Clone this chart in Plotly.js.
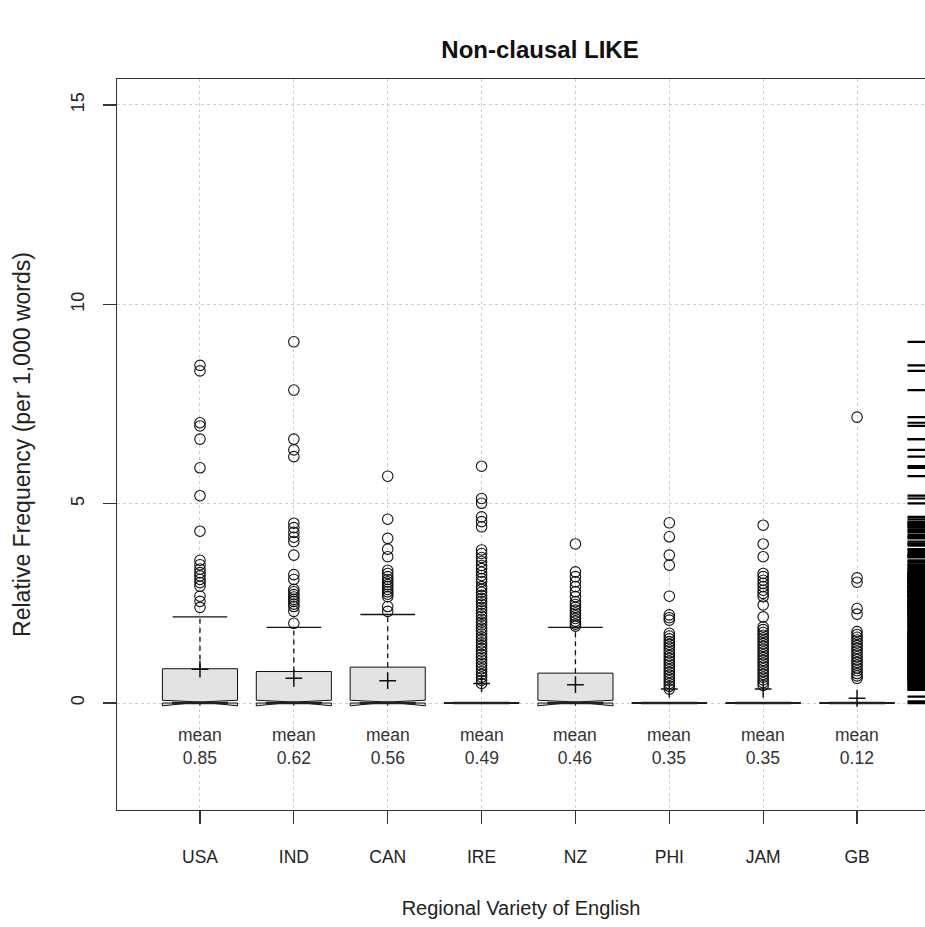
<!DOCTYPE html>
<html>
<head>
<meta charset="utf-8">
<script src="https://cdn.plot.ly/plotly-3.0.1.min.js"></script>
<style>html,body{margin:0;padding:0;background:#fff;}</style>
</head>
<body>
<div id="chart" style="width:925px;height:927px;"></div>
<script>
// ---- data ----
const categories = ["USA", "IND", "CAN", "IRE", "NZ", "PHI", "JAM", "GB"];
const q1Values = [0, 0, 0, 0, 0, 0, 0, 0];
const medianValues = [0, 0, 0, 0, 0, 0, 0, 0];
const q3Values = [0.86, 0.79, 0.90, 0, 0.75, 0, 0, 0];
const upperWhisker = [2.16, 1.90, 2.22, 0, 1.90, 0, 0, 0];
const notchSpans = [0.07, 0.07, 0.07, 0, 0.07, 0, 0, 0];
const meanValues = [0.85, 0.62, 0.56, 0.49, 0.46, 0.35, 0.35, 0.12];

const outUSA = [8.47, 8.33, 7.03, 6.95, 6.62, 5.90, 5.20, 4.31, 3.58, 3.47, 3.36, 3.27, 3.19, 3.10, 3.02, 2.93, 2.68, 2.55, 2.40];
const outIND = [9.06, 7.85, 6.62, 6.35, 6.18, 4.51, 4.40, 4.28, 4.16, 4.05, 3.71, 3.22, 3.10, 2.85, 2.79, 2.72, 2.66, 2.60, 2.55, 2.48, 2.42, 2.30, 2.00];
const outCAN = [5.69, 4.61, 4.13, 3.86, 3.67, 3.33, 3.25, 3.17, 3.10, 3.04, 2.97, 2.92, 2.85, 2.79, 2.73, 2.67, 2.42, 2.30];
const outIRE = [5.94, 5.13, 5.01, 4.67, 4.55, 4.42, 3.84, 3.75, 3.65, 3.55, 3.45, 3.37, 3.28, 3.20, 3.12, 3.05, 2.92, 2.85, 2.78, 2.70, 2.62, 2.55, 2.48, 2.40, 2.33, 2.25, 2.18, 2.10, 2.03, 1.96, 1.88, 1.81, 1.73, 1.66, 1.59, 1.51, 1.44, 1.37, 1.30, 1.22, 1.15, 1.08, 1.00, 0.93, 0.86, 0.79, 0.72, 0.65, 0.57, 0.49];
const outNZ = [3.99, 3.29, 3.17, 3.04, 2.92, 2.79, 2.67, 2.54, 2.47, 2.40, 2.33, 2.26, 2.19, 2.12, 2.05, 1.98, 1.93];
const outPHI = [4.52, 4.17, 3.71, 3.46, 2.68, 2.21, 2.14, 2.08, 1.75, 1.68, 1.61, 1.54, 1.47, 1.40, 1.33, 1.26, 1.19, 1.12, 1.05, 0.98, 0.91, 0.84, 0.77, 0.70, 0.63, 0.56, 0.49, 0.42, 0.35];
const outJAM = [4.46, 3.99, 3.67, 3.25, 3.17, 3.08, 3.00, 2.92, 2.83, 2.75, 2.67, 2.46, 2.16, 1.91, 1.84, 1.77, 1.70, 1.63, 1.56, 1.49, 1.42, 1.35, 1.28, 1.21, 1.14, 1.07, 1.00, 0.93, 0.86, 0.79, 0.72, 0.65, 0.58, 0.51, 0.44];
const outGB = [7.17, 3.14, 3.03, 2.37, 2.23, 1.79, 1.72, 1.65, 1.58, 1.51, 1.44, 1.37, 1.30, 1.23, 1.16, 1.09, 1.02, 0.95, 0.88, 0.81, 0.74, 0.68, 0.62];
// nonzero values inside boxes/whiskers (visible only in the rug)
const inlierValues = [0.0, 0.04, 0.16, 0.33, 0.36, 0.40, 0.46, 0.53, 0.60, 0.67, 0.74, 0.81, 0.89, 0.96, 1.03, 1.11, 1.18, 1.26, 1.33, 1.41, 1.48, 1.55, 1.63, 1.70, 1.78, 1.85, 1.92, 1.99, 2.06, 2.14, 2.20, 2.29, 2.36, 2.44, 2.51, 2.58, 2.66, 2.74, 2.81, 2.89, 2.97, 3.06, 3.14, 3.22, 3.41, 3.52, 3.79, 3.95, 4.22, 4.35, 4.47];

const outlierGroups = [outUSA, outIND, outCAN, outIRE, outNZ, outPHI, outJAM, outGB];

// ---- build traces ----
const positions = categories.map((c, i) => i + 1);
const xRange = [0.116, 8.724];

const outX = [], outY = [];
outlierGroups.forEach((g, i) => g.forEach(v => { outX.push(positions[i]); outY.push(v); }));

const whiskX = [], whiskY = [];
positions.forEach((p, i) => {
  if (upperWhisker[i] > q3Values[i]) {
    whiskX.push(p, p, null);
    whiskY.push(q3Values[i], upperWhisker[i], null);
  }
});

const rugY = [].concat(...outlierGroups, inlierValues);
const rugX = rugY.map(() => xRange[1]);

const FONT = 'Liberation Sans, Arial, sans-serif';

const traces = [
  {
    type: 'box', x: positions, q1: q1Values, median: medianValues, q3: q3Values,
    lowerfence: q1Values, upperfence: q3Values,
    notched: true, notchspan: notchSpans, notchwidth: 0.5,
    width: 0.8, whiskerwidth: 0, boxpoints: false,
    fillcolor: '#e3e3e3', line: {color: '#111', width: 1},
    hoverinfo: 'skip', showlegend: false
  },
  {
    type: 'scatter', mode: 'lines', x: whiskX, y: whiskY,
    line: {color: '#111', width: 1.3, dash: '5px,4px'}, hoverinfo: 'skip', showlegend: false
  },
  {
    type: 'scatter', mode: 'markers', x: positions, y: upperWhisker,
    marker: {symbol: 'line-ew', size: 39, line: {color: '#111', width: 1.3}},
    hoverinfo: 'skip', showlegend: false
  },
  {
    type: 'scatter', mode: 'markers', x: positions, y: medianValues,
    marker: {symbol: 'line-ew', size: 40, line: {color: '#222', width: 2.6}},
    hoverinfo: 'skip', showlegend: false
  },
  {
    type: 'scatter', mode: 'markers', x: outX, y: outY,
    marker: {symbol: 'circle-open', size: 10.5, color: '#111', line: {color: '#111', width: 1.1}},
    hoverinfo: 'skip', showlegend: false
  },
  {
    type: 'scatter', mode: 'markers', x: positions, y: meanValues,
    marker: {symbol: 'cross-thin-open', size: 12, color: '#111', line: {color: '#111', width: 1.5}},
    hoverinfo: 'skip', showlegend: false
  },
  {
    type: 'scatter', mode: 'markers', x: rugX, y: rugY,
    marker: {symbol: 'line-ew-open', size: 25, color: '#000', line: {color: '#000', width: 2.2}},
    hoverinfo: 'skip', showlegend: false
  }
];

const annotations = positions.map((p, i) => ({
  x: p, y: -1.09, xref: 'x', yref: 'y', showarrow: false,
  text: 'mean<br>' + meanValues[i].toFixed(2),
  font: {family: FONT, size: 17.5, color: '#333'},
  align: 'center'
}));

const layout = {
  width: 925, height: 927,
  margin: {l: 117, r: 0, t: 79, b: 117, pad: 0},
  paper_bgcolor: '#fff', plot_bgcolor: '#fff',
  font: {family: FONT, color: '#222'},
  title: {
    text: '<b>Non-clausal LIKE</b>', xref: 'paper', x: 0.5235, xanchor: 'center',
    yref: 'container', y: 0.946, yanchor: 'middle',
    font: {size: 24, color: '#111', family: FONT}
  },
  xaxis: {
    range: xRange, tickmode: 'array', tickvals: positions, ticktext: categories,
    showline: true, mirror: true, linecolor: '#333', linewidth: 1.3,
    ticks: 'outside', ticklen: 13, tickcolor: '#333', tickwidth: 1.3,
    ticklabelstandoff: 18,
    tickfont: {size: 17.5, color: '#222'},
    showgrid: true, gridcolor: '#cfcfcf', griddash: 'dot', gridwidth: 1,
    zeroline: false,
    title: {text: 'Regional Variety of English', font: {size: 20, color: '#222'}, standoff: 34}
  },
  yaxis: {
    range: [-2.683, 15.652], tickmode: 'array', tickvals: [0, 5, 10, 15],
    showline: true, mirror: false, linecolor: '#333', linewidth: 1.3,
    ticks: 'outside', ticklen: 13, tickcolor: '#333', tickwidth: 1.3,
    tickangle: -90, ticklabelstandoff: 12,
    tickfont: {size: 18, color: '#222'},
    showgrid: true, gridcolor: '#cfcfcf', griddash: 'dot', gridwidth: 1,
    zeroline: false,
    title: {text: 'Relative Frequency (per 1,000 words)', font: {size: 23, color: '#222'}, standoff: 30}
  },
  annotations: annotations,
  showlegend: false
};

Plotly.newPlot('chart', traces, layout, {staticPlot: true, displayModeBar: false});
</script>
</body>
</html>
